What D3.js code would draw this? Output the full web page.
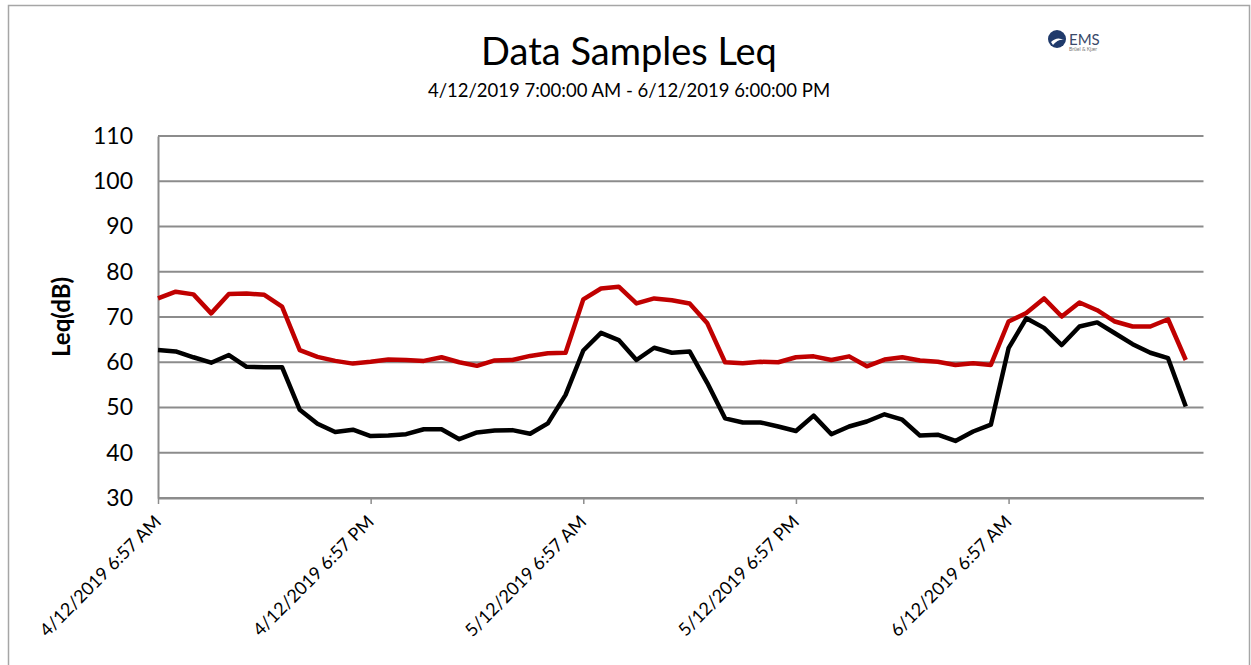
<!DOCTYPE html>
<html>
<head>
<meta charset="utf-8">
<script src="https://cdn.jsdelivr.net/npm/d3@7"></script>
<style>
  html, body { margin: 0; padding: 0; background: #fff; }
  text { font-family: Lato, "Open Sans", sans-serif; }
</style>
</head>
<body>
<svg id="chart" width="1251" height="665"></svg>
<script>
// ---- data ----
const startTime = new Date(2019, 11, 4, 6, 57);   // 4/12/2019 6:57 AM (d/m/yyyy)
const spanHours = 59;
const yTicks = [30, 40, 50, 60, 70, 80, 90, 100, 110];
const xTickHours = [0, 12, 24, 36, 48];
const redSeries = [
  74.1, 75.6, 75.0, 70.8, 75.1, 75.2, 74.9, 72.3, 62.7, 61.2,
  60.3, 59.7, 60.1, 60.6, 60.5, 60.3, 61.1, 60.0, 59.2, 60.4,
  60.5, 61.4, 62.0, 62.1, 73.9, 76.3, 76.7, 73.0, 74.1, 73.7,
  73.0, 68.6, 60.0, 59.8, 60.1, 60.0, 61.1, 61.3, 60.5, 61.3,
  59.1, 60.6, 61.1, 60.4, 60.1, 59.4, 59.8, 59.4, 69.0, 70.9,
  74.1, 70.1, 73.2, 71.5, 69.0, 67.9, 67.9, 69.5, 60.5
];
const blackSeries = [
  62.7, 62.4, 61.1, 59.9, 61.6, 59.0, 58.9, 58.9, 49.5, 46.4,
  44.6, 45.1, 43.7, 43.8, 44.1, 45.2, 45.2, 43.0, 44.5, 44.9,
  45.0, 44.2, 46.5, 52.8, 62.6, 66.5, 64.9, 60.5, 63.2, 62.1,
  62.4, 55.4, 47.6, 46.7, 46.7, 45.8, 44.8, 48.2, 44.1, 45.8,
  46.9, 48.5, 47.3, 43.8, 44.0, 42.6, 44.7, 46.2, 63.1, 69.7,
  67.6, 63.8, 67.9, 68.8, 66.4, 64.0, 62.1, 60.9, 50.2
];
const titleText = "Data Samples Leq";
const subtitleText = "4/12/2019 7:00:00 AM - 6/12/2019 6:00:00 PM";
const yLabel = "Leq(dB)";

// ---- chart ----
const svg = d3.select("#chart");
svg.append("rect").attr("width", 1251).attr("height", 665).attr("fill", "#fff");

// outer frame
svg.append("rect")
  .attr("x", 8.5).attr("y", 5.5).attr("width", 1241).attr("height", 720)
  .attr("fill", "none").attr("stroke", "#a6a6a6").attr("stroke-width", 1.5);

const x = d3.scaleTime()
  .domain([startTime, d3.timeHour.offset(startTime, spanHours)])
  .range([158, 1203.5]);
const y = d3.scaleLinear().domain([30, 110]).range([498, 136]);

const gridColor = "#8c8c8c";

// gridlines
svg.append("g").selectAll("line").data(yTicks).join("line")
  .attr("x1", x.range()[0]).attr("x2", x.range()[1])
  .attr("y1", d => y(d)).attr("y2", d => y(d))
  .attr("stroke", gridColor).attr("stroke-width", 2);

// y axis
const yAxis = svg.append("g").attr("transform", `translate(${x.range()[0]},0)`)
  .call(d3.axisLeft(y).tickValues(yTicks).tickSize(0).tickPadding(25));
yAxis.select(".domain").attr("stroke", gridColor).attr("stroke-width", 2);
yAxis.selectAll("text").attr("font-size", 23).attr("fill", "#000")
  .style("font-family", "Lato, sans-serif");

// x axis
const xTickValues = xTickHours.map(h => d3.timeHour.offset(startTime, h));
const fmt = d3.timeFormat("%-d/%-m/%Y %-I:%M %p");
const xAxis = svg.append("g").attr("transform", `translate(0,${y(30)})`)
  .call(d3.axisBottom(x).tickValues(xTickValues).tickFormat(fmt).tickSize(6).tickSizeOuter(0));
xAxis.select(".domain").attr("stroke", gridColor).attr("stroke-width", 2);
xAxis.selectAll(".tick line").attr("stroke", gridColor).attr("stroke-width", 1.5);
xAxis.selectAll("text")
  .attr("font-size", 18).attr("fill", "#000")
  .attr("text-anchor", "end")
  .attr("dy", "0.35em")
  .attr("transform", "translate(-7,14) rotate(-45)")
  .style("font-family", "Lato, sans-serif");

// lines
const line = d3.line()
  .x((d, i) => x(d3.timeHour.offset(startTime, i)))
  .y(d => y(d));

svg.append("path").datum(redSeries)
  .attr("d", line).attr("fill", "none")
  .attr("stroke", "#c00000").attr("stroke-width", 4.5).attr("stroke-linejoin", "round");
svg.append("path").datum(blackSeries)
  .attr("d", line).attr("fill", "none")
  .attr("stroke", "#000").attr("stroke-width", 4.5).attr("stroke-linejoin", "round");

// titles
svg.append("text").attr("x", 629).attr("y", 65).attr("text-anchor", "middle")
  .attr("font-size", 38).attr("fill", "#000").text(titleText);
svg.append("text").attr("x", 629).attr("y", 97).attr("text-anchor", "middle")
  .attr("font-size", 18.5).attr("fill", "#000").text(subtitleText);

// y label
svg.append("text")
  .attr("transform", `translate(70,${(y(30) + y(110)) / 2}) rotate(-90)`)
  .attr("text-anchor", "middle").attr("font-size", 24).attr("font-weight", "bold")
  .attr("fill", "#000").text(yLabel);

// logo
const logo = svg.append("g").attr("transform", "translate(1047,29)");
logo.append("circle").attr("cx", 10).attr("cy", 10).attr("r", 9).attr("fill", "#1f3a6b");
logo.append("path").attr("d", "M4,13 Q10,7 17,11 Q11,10 6,16 Z").attr("fill", "#fff");
logo.append("text").attr("x", 22).attr("y", 16).attr("font-size", 15)
  .attr("fill", "#3a4a6a").text("EMS");
logo.append("text").attr("x", 22).attr("y", 22).attr("font-size", 5)
  .attr("fill", "#777").text("Brüel & Kjær");
</script>
</body>
</html>
